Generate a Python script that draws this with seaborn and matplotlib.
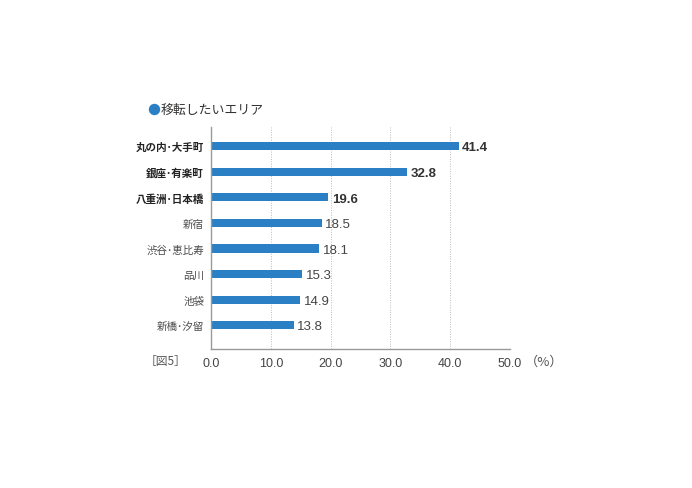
import matplotlib
matplotlib.use("Agg")
import matplotlib.pyplot as plt
from matplotlib.lines import Line2D
import seaborn as sns
import pandas as pd

categories = ["丸の内･大手町", "銀座･有楽町", "八重洲･日本橋", "新宿", "渋谷･恵比寿", "品川", "池袋", "新橋･汐留"]
values = [41.4, 32.8, 19.6, 18.5, 18.1, 15.3, 14.9, 13.8]
bold_flags = [True, True, True, False, False, False, False, False]
xticks = [0, 10, 20, 30, 40, 50]
xtick_labels = ["0.0", "10.0", "20.0", "30.0", "40.0", "50.0"]

sns.set_theme(style="white")
plt.rcParams['font.family'] = ['Noto Sans CJK JP', 'DejaVu Sans']
num_font = ['Liberation Sans', 'DejaVu Sans']

df = pd.DataFrame({"area": categories, "value": values})

fig = plt.figure(figsize=(6.92, 4.89), dpi=100)
ax = fig.add_axes([0.3049, 0.2843, 0.4321, 0.4540])

bar_color = "#2b80c5"
sns.barplot(data=df, x="value", y="area", orient="h", color=bar_color,
            width=0.32, saturation=1, ax=ax, edgecolor="none")

ax.set_xlim(0, 50)
ax.set_ylim(7.93, -0.75)
ax.set_xlabel("")
ax.set_ylabel("")

# grid
for x in xticks[1:]:
    ax.axvline(x, color="#bbbbbb", linestyle=(0, (1, 1.5)), linewidth=0.7, zorder=0)

ax.set_xticks(xticks)
ax.set_xticklabels(xtick_labels, fontsize=9, color="#444444", family=num_font)
ax.tick_params(axis="x", length=0, pad=6)

ax.set_yticks(range(len(categories)))
ax.set_yticklabels(categories, fontsize=7.6, color="#4a4a4a")
for lbl, b in zip(ax.get_yticklabels(), bold_flags):
    if b:
        lbl.set_fontweight("bold")
        lbl.set_color("#222222")
ax.tick_params(axis="y", which="major", length=0, pad=5)
ax.set_yticks([i - 0.5 for i in range(len(categories) + 1)], minor=True)
ax.tick_params(axis="y", which="minor", length=4, width=0.8, color="#888888", direction="out")

for s in ["top", "right"]:
    ax.spines[s].set_visible(False)
for s in ["left", "bottom"]:
    ax.spines[s].set_color("#999999")
    ax.spines[s].set_linewidth(1.0)

for i, (v, b) in enumerate(zip(values, bold_flags)):
    ax.text(v + 0.6, i + 0.05, f"{v:.1f}", va="center", ha="left", family=num_font,
            fontsize=9.5, color="#333333" if b else "#444444",
            fontweight="bold" if b else "normal")

# title
fig.add_artist(Line2D([154 / 692], [1 - 110 / 489], marker="o", markersize=8.2,
                      color=bar_color, markeredgewidth=0, transform=fig.transFigure))
fig.text(161 / 692, 1 - 110 / 489, "移転したいエリア", color="#333333", fontsize=9.3,
         va="center", ha="left")

fig.text(145 / 692, 1 - 362 / 489, "［図5］", color="#555555", fontsize=8.5,
         va="center", ha="left")
fig.text(525 / 692, 1 - 362 / 489, "（%）", color="#555555", fontsize=9.5,
         va="center", ha="left")

fig.savefig("out.png", dpi=100)
